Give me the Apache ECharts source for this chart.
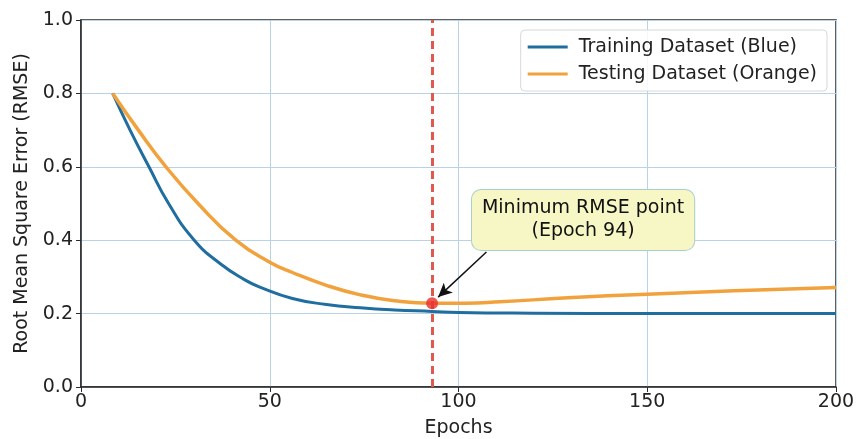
<!DOCTYPE html>
<html>
<head>
<meta charset="utf-8">
<script src="https://cdn.jsdelivr.net/npm/echarts@6/dist/echarts.min.js"></script>
<style>html,body{margin:0;padding:0;background:#fff}#c{width:856px;height:439px}</style>
</head>
<body>
<div id="c"></div>
<script>
var trainEpochs = [8.4, 13, 18, 23.2, 30, 37, 43.4, 47.4, 56, 65, 74, 83, 93, 100, 120, 150, 200];
var trainRMSE   = [0.80, 0.70, 0.60, 0.50, 0.40, 0.335, 0.292, 0.272, 0.241, 0.225, 0.216, 0.210, 0.206, 0.203, 0.201, 0.200, 0.200];
var testEpochs  = [8.4, 15.2, 22.5, 31, 41, 50, 56, 65, 74, 83, 93, 102, 111, 129, 150, 173, 200];
var testRMSE    = [0.80, 0.70, 0.60, 0.50, 0.40, 0.340, 0.312, 0.277, 0.251, 0.235, 0.228, 0.228, 0.232, 0.243, 0.253, 0.262, 0.271];
var minEpoch = 93;
var minValue = 0.228;
var annotationText = ['Minimum RMSE point', '(Epoch 94)'];
var annotationAt = [133, 0.455];
var arrowFrom = [107.4, 0.368];
var arrowTo = [94.6, 0.245];
var seriesNames = ['Training Dataset (Blue)', 'Testing Dataset (Orange)'];

function pairs(xs, ys) { return xs.map(function (x, i) { return [x, ys[i]]; }); }

var FONT = 'DejaVu Sans';
var BLUE = '#1f6e9f', ORANGE = '#f2a23c';
var chart = echarts.init(document.getElementById('c'), null, {renderer: 'canvas'});
chart.setOption({
  animation: false,
  textStyle: {fontFamily: FONT},
  grid: {left: 81, right: 20, top: 20, bottom: 52, outerBoundsMode: 'none', containLabel: false,
         show: true, borderColor: '#2b2b2b', borderWidth: 1.5, backgroundColor: 'transparent'},
  legend: {
    data: [
      {name: seriesNames[0], icon: 'rect', itemStyle: {color: BLUE}},
      {name: seriesNames[1], icon: 'rect', itemStyle: {color: ORANGE}}
    ],
    orient: 'vertical',
    right: 29, top: 30,
    itemWidth: 40, itemHeight: 3, itemGap: 5,
    padding: [6, 10, 6, 7],
    backgroundColor: 'rgba(255,255,255,0.85)',
    borderColor: '#d8d8d8', borderWidth: 1, borderRadius: 4,
    textStyle: {fontFamily: FONT, fontSize: 19, color: '#222', padding: [0, 0, 0, 6], lineHeight: 22}
  },
  xAxis: {
    type: 'value', min: 0, max: 200, interval: 50,
    name: 'Epochs', nameLocation: 'middle', nameGap: 32,
    nameTextStyle: {fontFamily: FONT, fontSize: 19, color: '#222'},
    axisLine: {show: true, lineStyle: {color: '#2b2b2b', width: 1.5}},
    axisTick: {show: true, inside: false, length: 5, lineStyle: {color: '#2b2b2b'}},
    axisLabel: {fontFamily: FONT, fontSize: 19, color: '#222', margin: 6},
    splitLine: {show: true, lineStyle: {color: '#b8d3e8', width: 1}}
  },
  yAxis: {
    type: 'value', min: 0, max: 1, interval: 0.2,
    name: 'Root Mean Square Error (RMSE)', nameLocation: 'middle', nameGap: 44,
    nameTextStyle: {fontFamily: FONT, fontSize: 19, color: '#222'},
    axisLine: {show: true, lineStyle: {color: '#2b2b2b', width: 1.5}},
    axisTick: {show: true, inside: false, length: 5, lineStyle: {color: '#2b2b2b'}},
    axisLabel: {fontFamily: FONT, fontSize: 19, color: '#222', margin: 8, formatter: function (v) { return v.toFixed(1); }},
    splitLine: {show: true, lineStyle: {color: '#b8d3e8', width: 1}}
  },
  series: [
    {
      name: seriesNames[0], type: 'line', data: pairs(trainEpochs, trainRMSE),
      smooth: 0.5, symbol: 'none',
      lineStyle: {color: BLUE, width: 3}, itemStyle: {color: BLUE}, z: 3
    },
    {
      name: seriesNames[1], type: 'line', data: pairs(testEpochs, testRMSE),
      smooth: 0.5, symbol: 'none',
      lineStyle: {color: ORANGE, width: 3.5}, itemStyle: {color: ORANGE}, z: 4,
      markLine: {
        silent: true, animation: false,
        data: [
          {xAxis: minEpoch, symbol: 'none', lineStyle: {color: '#df5a4c', width: 3, type: [8, 5]}, label: {show: false}},
          [
            {coord: arrowFrom, symbol: 'none', lineStyle: {color: '#111', width: 1.5, type: 'solid'}, label: {show: false}},
            {coord: arrowTo, symbol: 'arrow', symbolSize: [10, 14]}
          ]
        ],
        symbol: ['none', 'none']
      },
      markPoint: {
        silent: true, animation: false,
        data: [{
          coord: annotationAt, symbol: 'rect', symbolSize: 0,
          label: {
            show: true, position: 'inside', formatter: annotationText.join('\n'),
            fontFamily: FONT, fontSize: 19, lineHeight: 23, color: '#111', align: 'center',
            backgroundColor: '#f7f7c6', borderColor: '#a9cfc9', borderWidth: 1, borderRadius: 9,
            padding: [7, 10, 7, 10]
          }
        }]
      }
    },
    {
      name: 'min', type: 'scatter', data: [[minEpoch, minValue]],
      symbolSize: 12, itemStyle: {color: '#e8302c'}, z: 6
    }
  ]
});
</script>
</body>
</html>
